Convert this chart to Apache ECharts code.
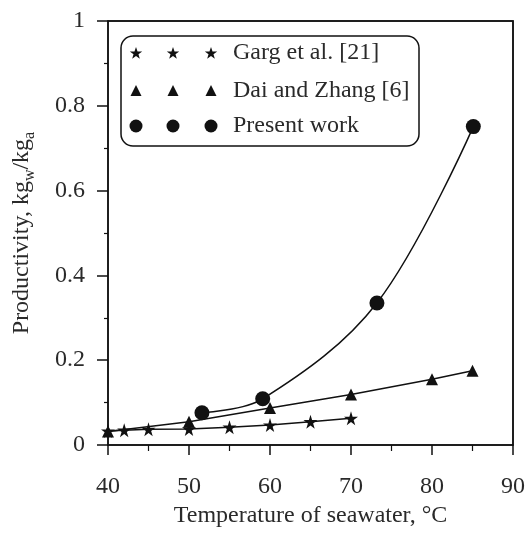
<!DOCTYPE html>
<html><head><meta charset="utf-8">
<script src="https://cdn.jsdelivr.net/npm/echarts@6/dist/echarts.min.js"></script>
<style>html,body{margin:0;padding:0;background:#fff}#c{width:528px;height:533px}</style>
</head><body><div id="c"></div>
<script>
var gargX = [40, 42, 45, 50, 55, 60, 65, 70];
var gargY = [0.033, 0.035, 0.037, 0.038, 0.042, 0.047, 0.055, 0.063];
var daiX = [40, 50, 60, 70, 80, 85];
var daiY = [0.032, 0.055, 0.087, 0.119, 0.155, 0.175];
var presentX = [51.6, 59.1, 73.2, 85.1];
var presentY = [0.076, 0.109, 0.335, 0.751];
var xTicks = [40, 50, 60, 70, 80, 90];
var yTicks = [0, 0.2, 0.4, 0.6, 0.8, 1];
var legendNames = ['Garg et al. [21]', 'Dai and Zhang [6]', 'Present work'];

var STAR = 'path://M50,0 L61,35 L98,35 L68,57 L79,91 L50,70 L21,91 L32,57 L2,35 L39,35 Z';
var FONT = '"Liberation Serif", "Times New Roman", serif';
var TXT = '#2a2a2a';
var W = 528, H = 533;
var GRID = { left: 108, right: 15, top: 21, bottom: 88 };

function pairs(xs, ys) { return xs.map(function (x, i) { return [x, ys[i]]; }); }
function starPts(cx, cy, R) {
  var pts = [];
  for (var i = 0; i < 10; i++) {
    var a = -Math.PI / 2 + i * Math.PI / 5;
    var rr = i % 2 === 0 ? R : R * 0.4;
    pts.push([cx + rr * Math.cos(a), cy + rr * Math.sin(a)]);
  }
  return pts;
}

var chart = echarts.init(document.getElementById('c'));
var graphicEls = (function () {
  var gx0 = GRID.left, gy0 = GRID.top, gx1 = W - GRID.right, gy1 = H - GRID.bottom;
  var els = [{
    type: 'polyline', z: 100,
    shape: { points: [[gx0, gy0], [gx1, gy0], [gx1, gy1]] },
    style: { stroke: '#111', lineWidth: 1.5, fill: null }
  }, {
    type: 'rect', shape: { x: 121, y: 36, width: 298, height: 110, r: 12 },
    style: { fill: '#fff', stroke: '#111', lineWidth: 1.5 }
  }];
  var rows = [53, 91, 126];
  var xs = [136, 173, 211];
  var syms = ['star', 'tri', 'circ'];
  rows.forEach(function (y, r) {
    xs.forEach(function (x) {
      var el;
      if (syms[r] === 'star') {
        el = { type: 'polygon', shape: { points: starPts(x, y + 0.5, 6.5) }, style: { fill: '#111' } };
      } else if (syms[r] === 'tri') {
        el = { type: 'polygon', shape: { points: [[x, y - 6], [x + 5.5, y + 5], [x - 5.5, y + 5]] }, style: { fill: '#111' } };
      } else {
        el = { type: 'circle', shape: { cx: x, cy: y, r: 6.5 }, style: { fill: '#111' } };
      }
      els.push(el);
    });
    els.push({ type: 'text', x: 233, y: y, style: { text: legendNames[r], font: '24px ' + FONT, fill: TXT, verticalAlign: 'middle' } });
  });
  return els;
})();

var opt = {
  animation: false,
  grid: { left: GRID.left, right: GRID.right, top: GRID.top, bottom: GRID.bottom, show: true, borderColor: '#111', borderWidth: 1.5 },
  xAxis: {
    type: 'value', min: 40, max: 90, interval: 10,
    axisLine: { show: true, onZero: false, lineStyle: { color: '#111', width: 1.5 } },
    axisTick: { show: true, inside: false, length: 10, lineStyle: { color: '#111', width: 1.5 } },
    minorTick: { show: true, splitNumber: 2, length: 6, lineStyle: { color: '#111', width: 1.2 } },
    splitLine: { show: false },
    axisLabel: { margin: 30, fontFamily: FONT, fontSize: 24, color: TXT,
      formatter: function (v) { return xTicks.indexOf(v) >= 0 ? String(v) : ''; } },
    name: 'Temperature of seawater, \u00b0C', nameLocation: 'middle', nameGap: 58,
    nameTextStyle: { fontFamily: FONT, fontSize: 24, color: TXT }
  },
  yAxis: {
    type: 'value', min: 0, max: 1, interval: 0.2,
    axisLine: { show: true, onZero: false, lineStyle: { color: '#111', width: 1.5 } },
    axisTick: { show: true, inside: false, length: 11, lineStyle: { color: '#111', width: 1.5 } },
    minorTick: { show: true, splitNumber: 2, length: 4, lineStyle: { color: '#111', width: 1.2 } },
    splitLine: { show: false },
    axisLabel: { margin: 23, fontFamily: FONT, fontSize: 24, color: TXT,
      formatter: function (v) { for (var i = 0; i < yTicks.length; i++) { if (Math.abs(yTicks[i] - v) < 1e-9) return String(yTicks[i]); } return ''; } },
    name: 'Productivity, kg{s|w}/kg{s|a}', nameLocation: 'middle', nameGap: 70,
    nameTextStyle: { fontFamily: FONT, fontSize: 24, color: TXT,
      rich: { s: { fontFamily: FONT, fontSize: 16, color: TXT, verticalAlign: 'bottom', lineHeight: 32, padding: [8, 0, 0, 0] } } }
  },
  series: [{
    name: legendNames[0], type: 'line', data: pairs(gargX, gargY),
    symbol: STAR, symbolSize: 14, itemStyle: { color: '#111' },
    lineStyle: { color: '#111', width: 1.5 }
  }, {
    name: legendNames[1], type: 'line', data: pairs(daiX, daiY),
    symbol: 'triangle', symbolSize: 12, itemStyle: { color: '#111' },
    lineStyle: { color: '#111', width: 1.5 }
  }, {
    name: legendNames[2], type: 'line', data: pairs(presentX, presentY), smooth: 0.35,
    symbol: 'circle', symbolSize: 15, itemStyle: { color: '#111' },
    lineStyle: { color: '#111', width: 1.5 }, z: 3
  }],
  graphic: graphicEls
};
chart.setOption(opt);
</script></body></html>
